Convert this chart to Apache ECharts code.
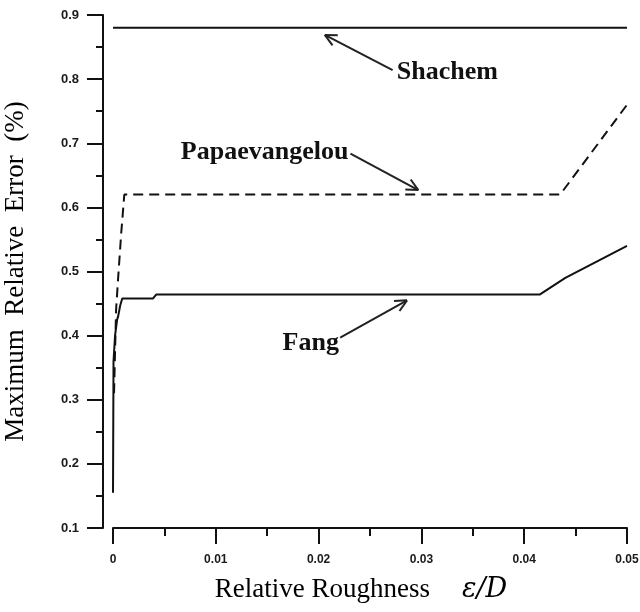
<!DOCTYPE html>
<html>
<head>
<meta charset="utf-8">
<script src="https://cdn.jsdelivr.net/npm/echarts@6/dist/echarts.min.js"></script>
<style>
  html, body {margin: 0; padding: 0; background: #fff;}
  #chart {width: 640px; height: 612px;}
</style>
</head>
<body>
<div id="chart"></div>
<script>
// values: [relative roughness, max relative error]
const shachem = [[0, 0.88], [0.05, 0.88]];
const papaevangelou = [
  [0.0001, 0.31], [0.0003, 0.44], [0.0005, 0.49], [0.0008, 0.56],
  [0.0011, 0.62], [0.0435, 0.62], [0.05, 0.76]
];
const fang = [
  [0, 0.155], [0.00005, 0.36], [0.0002, 0.40], [0.0004, 0.425], [0.0005, 0.43],
  [0.0007, 0.447], [0.0009, 0.458], [0.0039, 0.458], [0.0042, 0.464],
  [0.0415, 0.464], [0.044, 0.49], [0.047, 0.515], [0.05, 0.54]
];

// annotations: label, label anchor, arrow tail, arrow head (data coords)
const notes = [
  {text: 'Shachem', at: [0.0276, 0.811], align: 'left', tail: [0.0272, 0.814], head: [0.0206, 0.869]},
  {text: 'Papaevangelou', at: [0.0229, 0.686], align: 'right', tail: [0.0231, 0.684], head: [0.0297, 0.627]},
  {text: 'Fang', at: [0.0165, 0.388], align: 'left', tail: [0.0221, 0.397], head: [0.0286, 0.455]}
];

var chart = echarts.init(document.getElementById('chart'));

const lineStyle = (type) => ({color: '#111', width: 2, type: type});
const ink = {color: '#111', width: 2};

chart.setOption({
  animation: false,
  // grid 0 holds the data, grid 1 only carries the detached y axis
  grid: [
    {left: 113, right: 13, top: 15, bottom: 84, outerBoundsMode: 'none'},
    {left: 103, width: 1, top: 15, bottom: 84, outerBoundsMode: 'none'}
  ],
  xAxis: [{
    type: 'value',
    min: 0, max: 0.05, interval: 0.01,
    name: 'Relative Roughness{i|ε/D}',
    nameLocation: 'middle',
    nameGap: 48,
    nameTextStyle: {
      fontFamily: 'Liberation Serif', fontSize: 27, color: '#000',
      padding: [0, 18, 0, 0],
      rich: {i: {fontFamily: 'DejaVu Serif', fontStyle: 'italic', fontSize: 27, color: '#000', padding: [0, 0, 0, 32]}}
    },
    splitLine: {show: false},
    axisLine: {onZero: false, lineStyle: ink},
    axisTick: {length: 16, lineStyle: ink},
    minorTick: {show: true, splitNumber: 2, length: 8, lineStyle: ink},
    axisLabel: {
      margin: 26, fontFamily: 'Liberation Sans', fontWeight: 'bold', fontSize: 12, color: '#1a1a1a',
      formatter: (v) => v === 0 ? '0' : v.toFixed(2)
    }
  }, {
    gridIndex: 1, type: 'value', min: 0, max: 1, show: false
  }],
  yAxis: [{
    type: 'value',
    min: 0.1, max: 0.9, interval: 0.1,
    show: false
  }, {
    gridIndex: 1,
    type: 'value',
    min: 0.1, max: 0.9, interval: 0.1,
    name: 'Maximum  Relative  Error  (%)',
    nameLocation: 'middle',
    nameRotate: 90,
    nameGap: 74,
    nameTextStyle: {fontFamily: 'Liberation Serif', fontSize: 27, color: '#000'},
    splitLine: {show: false},
    axisLine: {onZero: false, lineStyle: ink},
    axisTick: {length: 16, lineStyle: ink},
    minorTick: {show: true, splitNumber: 2, length: 7, lineStyle: ink},
    axisLabel: {
      margin: 24, fontFamily: 'Liberation Sans', fontWeight: 'bold', fontSize: 13, color: '#1a1a1a',
      formatter: (v) => v.toFixed(1)
    }
  }],
  series: [
    {name: 'Shachem', type: 'line', data: shachem, showSymbol: false, lineStyle: lineStyle('solid')},
    {name: 'Papaevangelou', type: 'line', data: papaevangelou, showSymbol: false, lineStyle: lineStyle([10, 6])},
    {name: 'Fang', type: 'line', data: fang, showSymbol: false, lineStyle: lineStyle('solid')}
  ]
});

// labels and open-head arrows placed through the grid's scales
const toPx = (p) => chart.convertToPixel({gridIndex: 0}, p);
const graphics = [];
notes.forEach((n) => {
  const at = toPx(n.at), t = toPx(n.tail), h = toPx(n.head);
  graphics.push({
    type: 'text', x: at[0], y: at[1],
    style: {text: n.text, font: 'bold 26px "Liberation Serif"', fill: '#111', align: n.align, verticalAlign: 'middle'}
  });
  graphics.push({type: 'line', shape: {x1: t[0], y1: t[1], x2: h[0], y2: h[1]}, style: {stroke: '#222', lineWidth: 2}});
  const ang = Math.atan2(t[1] - h[1], t[0] - h[0]);
  [0.45, -0.45].forEach((d) => {
    graphics.push({
      type: 'line',
      shape: {x1: h[0], y1: h[1], x2: h[0] + 13 * Math.cos(ang + d), y2: h[1] + 13 * Math.sin(ang + d)},
      style: {stroke: '#222', lineWidth: 2}
    });
  });
});
chart.setOption({graphic: graphics});
</script>
</body>
</html>
